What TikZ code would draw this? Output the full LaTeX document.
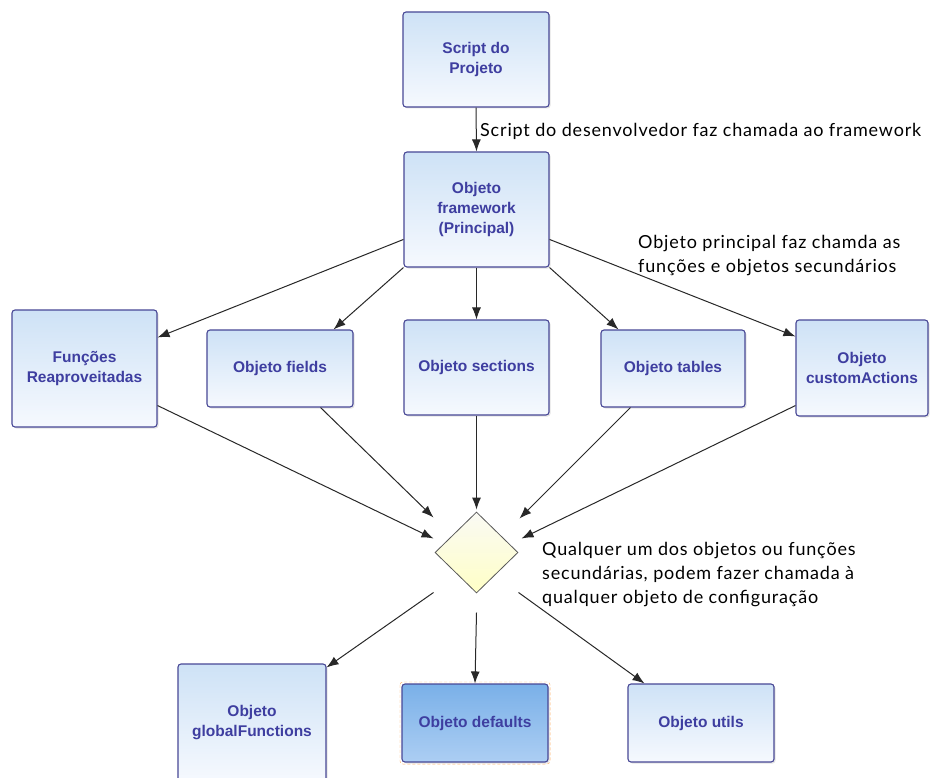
\documentclass[tikz,border=0pt]{standalone}
\usepackage{fontspec}
\setmainfont{Liberation Sans}
\newfontfamily\notefont[LetterSpace=4.5]{Lato}
\usetikzlibrary{shapes.geometric,arrows.meta,shadows}
\definecolor{boxborder}{RGB}{72,72,150}
\definecolor{boxtext}{RGB}{62,62,160}
\definecolor{boxtop}{RGB}{206,226,246}
\definecolor{boxbot}{RGB}{246,249,254}
\definecolor{deftop}{RGB}{122,176,232}
\definecolor{defbot}{RGB}{172,206,243}
\definecolor{diatop}{RGB}{250,250,244}
\definecolor{diabot}{RGB}{255,255,198}
\definecolor{linecol}{RGB}{40,40,40}
\tikzset{
  box/.style={rectangle, rounded corners=3pt, draw=boxborder, line width=1.1pt,
    top color=boxtop, bottom color=boxbot, text=boxtext, align=center, inner sep=0pt,
    font=\bfseries\fontsize{15.5}{20}\selectfont,
    drop shadow={opacity=0.22, shadow xshift=1.5pt, shadow yshift=-1.5pt}},
  defbox/.style={box, top color=deftop, bottom color=defbot},
  decision/.style={diamond, draw=gray!70!black, line width=0.8pt, inner sep=0pt,
    top color=diatop, bottom color=diabot},
  arr/.style={draw=linecol, line width=1pt, -{Latex[length=12pt,width=9pt]}},
  note/.style={font=\notefont\fontsize{18}{24}\selectfont, align=left, inner sep=0pt, text=black}
}
\begin{document}
\begin{tikzpicture}[x=1pt,y=-1pt]
\useasboundingbox[fill=white] (0,0) rectangle (931,778);
% boxes
\node[box, minimum width=146pt, minimum height=95pt] (sp) at (476,59.5) {Script do\\Projeto};
\node[box, minimum width=145pt, minimum height=115pt] (fw) at (476.5,209.5) {Objeto\\framework\\(Principal)};
\node[box, minimum width=145pt, minimum height=117pt] (fun) at (84.5,368.5) {Funções\\Reaproveitadas};
\node[box, minimum width=146pt, minimum height=77pt] (fie) at (280,368.5) {Objeto fields};
\node[box, minimum width=145pt, minimum height=95pt] (sec) at (476.5,367.5) {Objeto sections};
\node[box, minimum width=144pt, minimum height=77pt] (tab) at (673,368.5) {Objeto tables};
\node[box, minimum width=132pt, minimum height=96pt] (cus) at (862,368) {Objeto\\customActions};
\node[decision, minimum width=83pt, minimum height=81pt] (dia) at (476.5,552.5) {};
\node[box, minimum width=148pt, minimum height=118pt] (gl) at (252,723) {Objeto\\globalFunctions};
\node[defbox, minimum width=146pt, minimum height=78pt] (def) at (475,723) {Objeto defaults};
\draw[orange!60, densely dashed, line width=0.4pt, rounded corners=3pt]
  ([shift={(-1.5pt,1.5pt)}]def.north west) rectangle ([shift={(1.5pt,-1.5pt)}]def.south east);
\node[box, minimum width=146pt, minimum height=78pt] (ut) at (701,723) {Objeto utils};
% connectors
\draw[arr] (sp.south) -- (fw.north);
\draw[arr] ([yshift=-88pt]fw.north west) -- ([yshift=-28pt]fun.north east);
\draw[arr] (fw.south west) -- ([xshift=-20pt]fie.north east);
\draw[arr] (fw.south) -- (sec.north);
\draw[arr] (fw.south east) -- ([xshift=18pt]tab.north west);
\draw[arr] ([yshift=-88pt]fw.north east) -- ([yshift=-17pt]cus.north west);
\draw[arr] ([yshift=22pt]fun.south east) -- ([shift={(-43pt,14pt)}]dia.center);
\draw[arr] ([xshift=-33pt]fie.south east) -- ([shift={(-43pt,35pt)}]dia.center);
\draw[arr] (sec.south) -- ([yshift=2pt]dia.north);
\draw[arr] ([xshift=30pt]tab.south west) -- ([shift={(43pt,34pt)}]dia.center);
\draw[arr] ([yshift=11pt]cus.south west) -- ([shift={(45pt,14pt)}]dia.center);
\draw[arr] ([shift={(-43pt,-40pt)}]dia.center) -- ([yshift=-4pt]gl.north east);
\draw[arr] ([yshift=-60pt]dia.center) -- (def.north);
\draw[arr] ([shift={(42pt,-40pt)}]dia.center) -- ([xshift=17pt]ut.north west);
% notes
\node[note, anchor=west] (n1) at (480,131) {Script do desenvolvedor faz chamada ao framework};
\node[note, anchor=west] (n2) at (638,255.5) {Objeto principal faz chamda as\\funções e objetos secundários};
\node[note, anchor=west] (n3) at (542,574.5) {Qualquer um dos objetos ou funções\\secundárias, podem fazer chamada à\\qualquer objeto de configuração};
\end{tikzpicture}
\end{document}
